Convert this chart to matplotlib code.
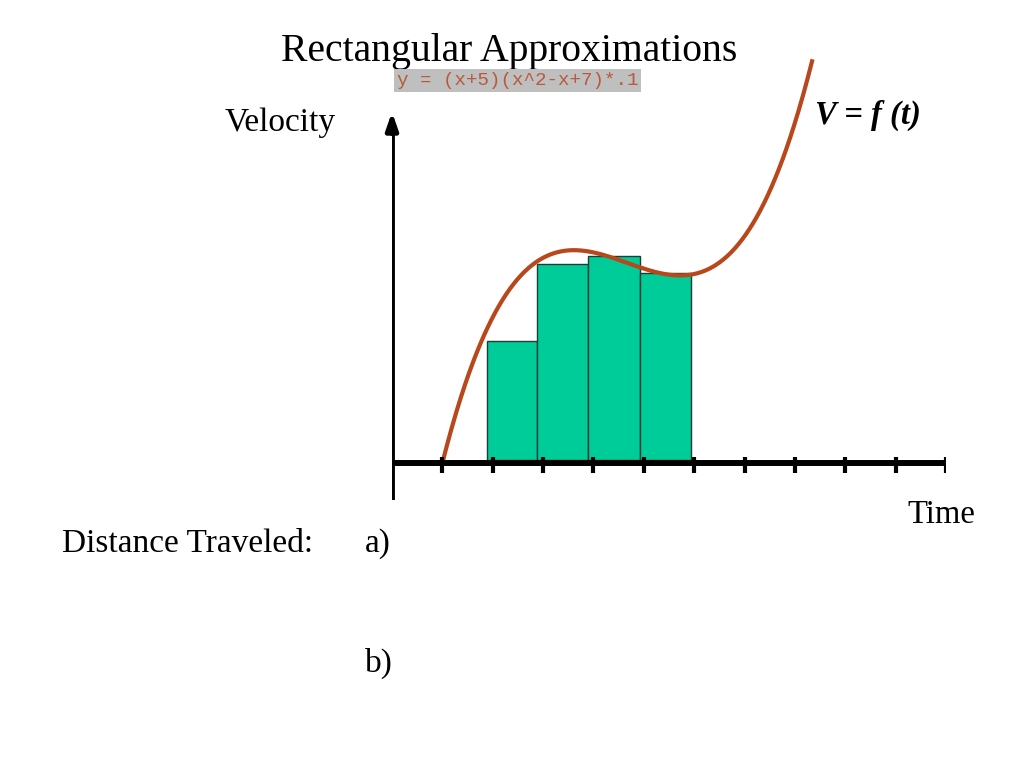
import numpy as np
import matplotlib
matplotlib.use("Agg")
from matplotlib import pyplot as plt

# courbe donnee sur la diapo : y = (x+5)(x^2-x+7)*.1
coef_a = 5
coef_b = [1, -1, 7]
facteur = 0.1
x_debut = -5
x_fin = 2.35

# rectangles (bord gauche, largeur, hauteur)
rect_gauche = [-4.12, -3.12, -2.11, -1.08]
rect_largeur = [1.0, 1.01, 1.03, 1.01]
rect_hauteur = [2.26, 3.69, 3.83, 3.52]
rect_bas = 0.05

graduations = list(range(-5, 6))

W, H = 1024, 768
fig = plt.figure(figsize=(W / 100, H / 100), dpi=100)

def fx(px):
    return px / W

def fy(py):
    return 1 - py / H

# zone du graphique en pixels : x de 392 a 946, y de 55 a 500
ax = fig.add_axes([fx(392), fy(500), fx(946) - fx(392), fy(55) - fy(500)])
ax.set_xlim(-6, 5)
ax.set_ylim(-0.685, 7.556)
ax.axis("off")

# rectangles
for g, l, h in zip(rect_gauche, rect_largeur, rect_hauteur):
    ax.bar(g, h - rect_bas, width=l, bottom=rect_bas, align="edge",
           color="#00CC99", edgecolor="#1f3d33", linewidth=1, zorder=2)

# la courbe
x = np.linspace(x_debut, x_fin, 400)
y = facteur * (x + coef_a) * (coef_b[0] * x**2 + coef_b[1] * x + coef_b[2])
ax.plot(x, y, color="#B8481C", linewidth=3, zorder=3, solid_capstyle="butt")

# axes dessines a la main
ax.plot([-6, 5], [0, 0], color="black", linewidth=4.3, zorder=4, solid_capstyle="butt")
ax.plot([-6, -6], [-0.685, 6.3], color="black", linewidth=3.5, zorder=4, solid_capstyle="butt")
ax.annotate("", xy=(-6, 6.5), xytext=(-6, 6.1),
            arrowprops=dict(arrowstyle="-|>,head_width=0.35,head_length=1.0",
                            color="black", lw=3.5, shrinkA=0, shrinkB=0), zorder=5)
for t in graduations:
    ax.plot([t, t], [-0.19, 0.11], color="black", linewidth=3, zorder=4, solid_capstyle="butt")

# textes
serif = ["Liberation Serif", "DejaVu Serif"]
fig.text(fx(509), fy(61), "Rectangular Approximations", family=serif, fontsize=28.5,
         ha="center", va="baseline")
fig.text(fx(397), fy(85), "y = (x+5)(x^2-x+7)*.1", family=["Liberation Mono", "DejaVu Sans Mono"],
         fontsize=13.8, color="#B85A3A", ha="left", va="baseline",
         bbox=dict(boxstyle="square,pad=0.15", facecolor="#BFBFBF", edgecolor="none"))
fig.text(fx(225), fy(131), "Velocity", family=serif, fontsize=24, ha="left", va="baseline")
fig.text(fx(815), fy(124), "V = f (t)", family=serif, fontsize=23.5, fontweight="bold",
         fontstyle="italic", ha="left", va="baseline")
fig.text(fx(907), fy(523), "Time", family=serif, fontsize=23.5, ha="left", va="baseline")
fig.text(fx(62), fy(552), "Distance Traveled:", family=serif, fontsize=24, ha="left", va="baseline")
fig.text(fx(365), fy(552), "a)", family=serif, fontsize=24, ha="left", va="baseline")
fig.text(fx(365), fy(672), "b)", family=serif, fontsize=24, ha="left", va="baseline")

fig.savefig("out.png", dpi=100)
